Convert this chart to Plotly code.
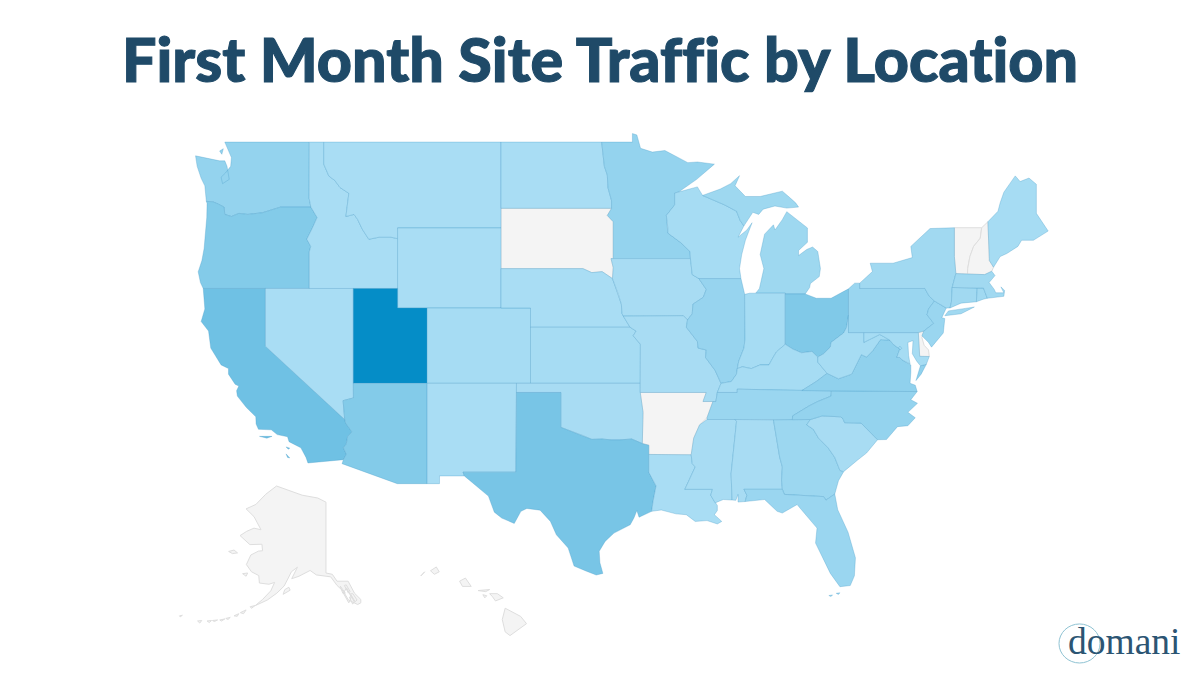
import numpy as np
import plotly.graph_objects as go
from plotly.colors import sample_colorscale

TITLE = "First Month Site Traffic by Location"
BRAND = "domani"

# Relative traffic level per state, read from the shading (None = no data, grey)
STATES = ["WA","OR","CA","NV","ID","MT","WY","UT","CO","AZ","NM","ND","SD","NE","KS","OK","TX","MN","IA","MO","AR","LA","WI","IL","MI","IN","OH","KY","TN","MS","AL","GA","FL","SC","NC","VA","WV","MD","DE","DC","PA","NJ","NY","CT","RI","MA","VT","NH","ME","AK","HI"]
LEVELS = [14,24,36,1,1,1,1,100,3,24,1,1,None,1,3,2,31,14,2,2,None,1,3,12,8,3,26,3,10,2,2,9,10,2,14,16,3,3,None,3,10,10,6,6,6,6,None,None,3,None,None]

# State outlines as (lon, lat)
WA = [[(-124.73,48.38),(-123.1,48.15),(-122.75,48.15),(-122.6,47.9),(-122.45,47.3),(-122.9,47.1),(-123.0,47.4),(-122.7,47.6),(-122.35,47.9),(-122.3,48.3),(-122.75,49.0),(-117.03,49.0),(-117.04,46.42),(-116.92,46.0),(-118.98,46.0),(-119.3,45.93),(-120.2,45.73),(-121.2,45.65),(-121.8,45.7),(-122.3,45.55),(-122.75,45.65),(-122.8,46.0),(-123.2,46.15),(-123.55,46.25),(-124.0,46.27),(-124.05,46.7),(-124.1,47.0),(-124.35,47.35),(-124.62,47.9)],
      [(-123.1,48.6),(-122.85,48.7),(-122.95,48.45)]]
OR = [[(-124.0,46.27),(-123.55,46.25),(-123.2,46.15),(-122.8,46.0),(-122.75,45.65),(-122.3,45.55),(-121.8,45.7),(-121.2,45.65),(-120.2,45.73),(-119.3,45.93),(-118.98,46.0),(-116.92,46.0),(-116.5,45.5),(-116.85,44.95),(-117.2,44.45),(-117.03,44.25),(-116.93,44.1),(-117.03,43.83),(-117.03,42.0),(-124.21,42.0),(-124.4,42.3),(-124.55,42.84),(-124.3,43.4),(-124.15,44.0),(-124.07,44.7),(-123.97,45.5),(-123.95,46.18)]]
CA = [[(-124.21,42.0),(-120.0,42.0),(-120.0,39.0),(-114.63,35.0),(-114.57,34.8),(-114.14,34.3),(-114.43,34.05),(-114.53,33.6),(-114.72,33.4),(-114.52,33.03),(-114.72,32.72),(-117.12,32.53),(-117.25,32.85),(-117.6,33.4),(-118.4,33.75),(-118.5,34.03),(-119.2,34.15),(-119.6,34.42),(-120.47,34.45),(-120.63,34.75),(-120.65,35.15),(-121.3,35.68),(-121.9,36.3),(-121.95,36.6),(-121.8,36.85),(-122.05,36.95),(-122.5,37.5),(-122.5,37.8),(-123.0,38.0),(-123.7,38.9),(-123.85,39.8),(-124.35,40.3),(-124.1,40.95),(-124.15,41.7)],
      [(-120.4,34.05),(-119.55,34.05),(-119.9,33.95)],[(-118.6,33.45),(-118.35,33.38),(-118.45,33.32)],[(-118.6,33.05),(-118.35,32.82),(-118.5,32.85)]]
NV = [[(-120.0,42.0),(-114.04,42.0),(-114.04,36.2),(-114.74,36.05),(-114.63,35.0),(-120.0,39.0)]]
ID = [[(-117.03,49.0),(-116.05,49.0),(-116.05,48.0),(-115.7,47.45),(-115.3,47.25),(-114.95,46.92),(-114.35,46.65),(-114.55,45.55),(-114.0,45.65),(-113.75,45.4),(-113.45,44.95),(-113.0,44.45),(-112.3,44.55),(-111.5,44.55),(-111.05,44.48),(-111.05,42.0),(-117.03,42.0),(-117.03,43.83),(-116.93,44.1),(-117.03,44.25),(-117.2,44.45),(-116.85,44.95),(-116.5,45.5),(-116.92,46.0),(-117.04,46.42)]]
MT = [[(-116.05,49.0),(-104.05,49.0),(-104.05,45.0),(-111.05,45.0),(-111.05,44.48),(-111.5,44.55),(-112.3,44.55),(-113.0,44.45),(-113.45,44.95),(-113.75,45.4),(-114.0,45.65),(-114.55,45.55),(-114.35,46.65),(-114.95,46.92),(-115.3,47.25),(-115.7,47.45),(-116.05,48.0)]]
WY = [[(-111.05,45.0),(-104.05,45.0),(-104.05,41.0),(-111.05,41.0)]]
UT = [[(-114.05,42.0),(-111.05,42.0),(-111.05,41.0),(-109.05,41.0),(-109.05,37.0),(-114.05,37.0)]]
CO = [[(-109.05,41.0),(-102.05,41.0),(-102.05,37.0),(-109.05,37.0)]]
AZ = [[(-114.05,37.0),(-109.05,37.0),(-109.05,31.33),(-111.07,31.33),(-114.81,32.49),(-114.72,32.72),(-114.52,33.03),(-114.72,33.4),(-114.53,33.6),(-114.43,34.05),(-114.14,34.3),(-114.57,34.8),(-114.63,35.0),(-114.74,36.05),(-114.04,36.2)]]
NM = [[(-109.05,37.0),(-103.0,37.0),(-103.04,32.0),(-106.62,32.0),(-106.53,31.78),(-108.21,31.78),(-108.21,31.33),(-109.05,31.33)]]
ND = [[(-104.05,49.0),(-97.23,49.0),(-97.15,48.5),(-97.05,47.9),(-96.85,47.5),(-96.8,46.9),(-96.56,46.3),(-96.56,45.94),(-104.05,45.94)]]
SD = [[(-104.05,45.94),(-96.56,45.94),(-96.85,45.6),(-96.45,45.3),(-96.45,43.5),(-96.6,43.5),(-96.45,43.05),(-96.5,42.5),(-97.2,42.85),(-97.9,42.8),(-98.5,43.0),(-104.05,43.0)]]
NE = [[(-104.05,43.0),(-98.5,43.0),(-97.9,42.8),(-97.2,42.85),(-96.5,42.5),(-96.1,41.7),(-95.9,41.2),(-95.85,40.7),(-95.31,40.0),(-102.05,40.0),(-102.05,41.0),(-104.05,41.0)]]
KS = [[(-102.05,40.0),(-95.31,40.0),(-94.9,39.8),(-95.1,39.55),(-94.61,39.11),(-94.62,37.0),(-102.05,37.0)]]
OK = [[(-103.0,37.0),(-94.62,37.0),(-94.62,36.5),(-94.43,35.4),(-94.48,33.64),(-95.2,33.9),(-96.0,33.85),(-96.6,33.85),(-97.2,33.9),(-97.9,33.88),(-98.5,34.1),(-99.2,34.3),(-100.0,34.56),(-100.0,36.5),(-103.0,36.5)]]
TX = [[(-106.62,32.0),(-103.04,32.0),(-103.0,36.5),(-100.0,36.5),(-100.0,34.56),(-99.2,34.3),(-98.5,34.1),(-97.9,33.88),(-97.2,33.9),(-96.6,33.85),(-96.0,33.85),(-95.2,33.9),(-94.48,33.64),(-94.04,33.55),(-94.04,31.99),(-93.55,31.2),(-93.75,30.3),(-93.85,29.7),(-94.7,29.35),(-94.85,29.75),(-95.05,29.3),(-95.3,28.9),(-96.4,28.4),(-97.0,27.9),(-97.4,27.3),(-97.35,26.6),(-97.15,25.95),(-97.6,25.85),(-98.3,26.1),(-99.1,26.4),(-99.5,27.5),(-100.3,28.3),(-100.7,29.1),(-101.4,29.77),(-102.3,29.87),(-102.7,29.7),(-103.15,28.98),(-104.0,29.3),(-104.5,29.65),(-104.9,30.6),(-106.0,31.4),(-106.53,31.78)]]
MN = [[(-97.23,49.0),(-95.15,49.0),(-95.15,49.38),(-94.85,49.32),(-94.6,48.72),(-93.8,48.55),(-92.95,48.62),(-92.0,48.3),(-91.4,48.07),(-90.75,48.1),(-89.6,48.0),(-90.8,47.3),(-92.02,46.71),(-92.29,46.66),(-92.29,46.1),(-92.85,45.6),(-92.75,45.0),(-92.75,44.75),(-91.9,44.3),(-91.25,43.85),(-91.22,43.5),(-96.45,43.5),(-96.45,45.3),(-96.85,45.6),(-96.56,45.94),(-96.56,46.3),(-96.8,46.9),(-96.85,47.5),(-97.05,47.9),(-97.15,48.5)]]
IA = [[(-96.45,43.5),(-91.22,43.5),(-91.1,42.7),(-90.65,42.5),(-90.15,41.95),(-90.35,41.55),(-91.05,41.2),(-91.1,40.7),(-91.42,40.38),(-91.7,40.6),(-95.77,40.58),(-95.85,40.7),(-95.9,41.2),(-96.1,41.7),(-96.5,42.5),(-96.45,43.05),(-96.6,43.5)]]
MO = [[(-95.77,40.58),(-91.7,40.6),(-91.42,40.38),(-91.5,40.0),(-90.75,39.25),(-90.7,38.9),(-90.15,38.8),(-90.2,38.4),(-89.55,37.7),(-89.15,37.0),(-89.4,36.5),(-89.5,36.0),(-90.37,36.0),(-90.15,36.5),(-94.62,36.5),(-94.62,37.0),(-94.61,39.11),(-95.1,39.55),(-94.9,39.8),(-95.31,40.0)]]
AR = [[(-94.62,36.5),(-90.15,36.5),(-90.37,36.0),(-89.7,36.0),(-90.1,35.1),(-90.6,34.7),(-91.0,33.95),(-91.17,33.0),(-94.04,33.02),(-94.04,33.55),(-94.48,33.64),(-94.43,35.4)]]
LA = [[(-94.04,33.02),(-91.17,33.0),(-91.1,32.5),(-90.9,32.3),(-91.6,31.0),(-89.73,31.0),(-89.85,30.65),(-89.55,30.2),(-89.4,30.05),(-89.4,29.75),(-89.6,29.5),(-89.1,29.1),(-89.4,28.95),(-90.1,29.15),(-90.9,29.1),(-91.5,29.5),(-92.2,29.55),(-93.2,29.78),(-93.85,29.7),(-93.75,30.3),(-93.55,31.2),(-94.04,31.99)]]
MS = [[(-90.1,35.0),(-88.2,35.0),(-88.1,34.9),(-88.47,31.9),(-88.4,30.37),(-89.0,30.4),(-89.55,30.2),(-89.85,30.65),(-89.73,31.0),(-91.6,31.0),(-90.9,32.3),(-91.1,32.5),(-91.17,33.0),(-91.0,33.95),(-90.6,34.7)]]
TN = [[(-89.7,36.0),(-89.5,36.0),(-89.4,36.5),(-88.05,36.5),(-88.05,36.68),(-83.68,36.6),(-81.68,36.59),(-81.7,36.3),(-82.6,36.0),(-83.2,35.75),(-84.3,35.2),(-84.32,34.99),(-88.2,35.0),(-90.1,35.0),(-90.1,35.1)]]
KY = [[(-89.15,37.0),(-88.45,37.1),(-88.1,37.5),(-88.05,37.8),(-87.7,37.9),(-87.1,37.8),(-86.5,38.0),(-85.9,38.0),(-85.7,38.3),(-85.4,38.7),(-84.8,39.1),(-84.3,38.85),(-83.7,38.65),(-83.0,38.72),(-82.6,38.42),(-82.6,38.15),(-81.97,37.54),(-82.7,37.1),(-83.68,36.6),(-88.05,36.68),(-88.05,36.5),(-89.4,36.5)]]
IL = [[(-90.65,42.5),(-87.8,42.5),(-87.55,41.7),(-87.53,39.35),(-87.6,38.9),(-87.95,38.2),(-88.05,37.8),(-88.1,37.5),(-88.45,37.1),(-89.15,37.0),(-89.55,37.7),(-90.2,38.4),(-90.15,38.8),(-90.7,38.9),(-90.75,39.25),(-91.5,40.0),(-91.42,40.38),(-91.1,40.7),(-91.05,41.2),(-90.35,41.55),(-90.15,41.95)]]
IN = [[(-87.55,41.7),(-87.2,41.76),(-86.8,41.76),(-84.8,41.76),(-84.8,39.1),(-85.4,38.7),(-85.7,38.3),(-85.9,38.0),(-86.5,38.0),(-87.1,37.8),(-87.7,37.9),(-88.05,37.8),(-87.95,38.2),(-87.6,38.9),(-87.53,39.35)]]
OH = [[(-84.8,41.72),(-83.45,41.72),(-82.7,41.5),(-81.7,41.5),(-80.52,41.98),(-80.52,40.64),(-80.65,40.0),(-80.85,39.7),(-81.7,39.2),(-81.75,38.95),(-82.2,38.6),(-82.6,38.42),(-83.0,38.72),(-83.7,38.65),(-84.3,38.85),(-84.8,39.1)]]
MI = [[(-86.8,41.76),(-84.8,41.76),(-84.8,41.72),(-83.45,41.72),(-83.15,42.05),(-83.1,42.25),(-82.5,42.6),(-82.42,43.0),(-82.6,43.85),(-82.95,44.07),(-83.35,43.95),(-83.9,43.65),(-83.9,43.9),(-83.3,44.3),(-83.3,45.0),(-84.7,45.78),(-85.0,45.4),(-85.5,44.9),(-85.6,45.15),(-86.2,44.7),(-86.5,43.7),(-86.25,43.0),(-86.55,42.0)],
      [(-90.4,46.55),(-89.2,46.85),(-88.5,47.1),(-87.9,47.47),(-88.2,47.0),(-87.5,46.5),(-86.5,46.5),(-85.0,46.75),(-84.5,46.45),(-84.1,46.2),(-83.9,46.0),(-84.7,45.95),(-85.5,46.05),(-86.3,45.9),(-86.6,45.65),(-87.0,45.75),(-87.6,45.1),(-87.85,45.35),(-88.1,45.8),(-88.9,46.1)]]
WI = [[(-92.29,46.66),(-92.02,46.71),(-91.2,46.85),(-90.75,46.95),(-90.4,46.55),(-88.9,46.1),(-88.1,45.8),(-87.85,45.35),(-87.6,45.1),(-88.0,44.55),(-87.4,44.9),(-87.05,45.25),(-87.5,44.4),(-87.75,43.7),(-87.9,43.0),(-87.8,42.5),(-90.65,42.5),(-91.1,42.7),(-91.22,43.5),(-91.25,43.85),(-91.9,44.3),(-92.75,44.75),(-92.75,45.0),(-92.85,45.6),(-92.29,46.1)]]
AL = [[(-88.2,35.0),(-85.6,34.98),(-85.18,32.87),(-85.0,32.3),(-85.05,31.55),(-85.0,31.0),(-87.6,31.0),(-87.4,30.65),(-87.52,30.28),(-88.0,30.25),(-88.0,30.7),(-88.15,30.35),(-88.4,30.37),(-88.47,31.9),(-88.1,34.9)]]
GA = [[(-85.6,34.98),(-83.1,35.0),(-83.35,34.7),(-82.9,34.45),(-82.55,33.95),(-81.9,33.4),(-81.45,32.85),(-81.1,32.1),(-80.85,32.03),(-81.2,31.5),(-81.45,30.72),(-82.05,30.36),(-82.2,30.57),(-84.86,30.7),(-85.0,31.0),(-85.05,31.55),(-85.0,32.3),(-85.18,32.87)]]
FL = [[(-87.52,30.28),(-87.4,30.65),(-87.6,31.0),(-85.0,31.0),(-84.86,30.7),(-82.2,30.57),(-82.05,30.36),(-81.45,30.72),(-81.25,29.8),(-80.55,28.45),(-80.05,26.9),(-80.12,25.8),(-80.4,25.2),(-81.1,25.13),(-81.75,25.95),(-82.15,26.7),(-82.75,27.8),(-82.65,28.7),(-83.4,29.5),(-84.0,30.1),(-85.0,29.6),(-85.35,29.7),(-86.2,30.4)],
      [(-81.85,24.58),(-81.6,24.62),(-81.7,24.52)],[(-81.35,24.72),(-81.1,24.75),(-81.2,24.65)]]
SC = [[(-83.1,35.0),(-82.3,35.2),(-81.05,35.15),(-80.9,35.05),(-80.78,34.82),(-79.67,34.8),(-78.55,33.86),(-79.0,33.4),(-79.3,33.1),(-79.9,32.7),(-80.5,32.3),(-80.85,32.03),(-81.1,32.1),(-81.45,32.85),(-81.9,33.4),(-82.55,33.95),(-82.9,34.45),(-83.35,34.7)]]
NC = [[(-84.32,34.99),(-84.3,35.2),(-83.2,35.75),(-82.6,36.0),(-81.7,36.3),(-81.68,36.59),(-75.87,36.55),(-76.3,36.1),(-75.85,35.9),(-76.5,35.4),(-76.0,35.1),(-76.5,34.65),(-77.2,34.6),(-77.95,33.87),(-78.55,33.86),(-79.67,34.8),(-80.78,34.82),(-80.9,35.05),(-81.05,35.15),(-82.3,35.2),(-83.1,35.0)]]
VA = [[(-83.68,36.6),(-81.68,36.59),(-75.87,36.55),(-76.0,36.9),(-76.35,37.0),(-76.3,37.6),(-76.3,38.0),(-76.9,38.27),(-77.05,38.4),(-77.25,38.4),(-77.05,38.85),(-77.5,39.1),(-77.72,39.32),(-78.35,39.35),(-78.87,38.77),(-79.3,38.42),(-79.65,38.55),(-80.3,37.5),(-81.2,37.25),(-81.97,37.54),(-82.7,37.1)],
      [(-75.95,37.15),(-75.65,37.95),(-75.25,38.03),(-75.6,37.5)]]
WV = [[(-80.52,40.64),(-80.52,39.72),(-79.48,39.72),(-79.48,39.2),(-78.4,39.62),(-77.72,39.32),(-78.35,39.35),(-78.87,38.77),(-79.3,38.42),(-79.65,38.55),(-80.3,37.5),(-81.2,37.25),(-81.97,37.54),(-82.6,38.15),(-82.6,38.42),(-82.2,38.6),(-81.75,38.95),(-81.7,39.2),(-80.85,39.7),(-80.65,40.0)]]
MD = [[(-79.48,39.72),(-75.79,39.72),(-75.7,38.46),(-75.05,38.45),(-75.25,38.03),(-75.65,37.95),(-75.9,38.2),(-76.2,38.6),(-76.15,39.3),(-76.5,39.2),(-76.45,38.5),(-76.35,38.05),(-76.9,38.27),(-77.05,38.4),(-77.25,38.4),(-77.05,38.85),(-77.5,39.1),(-77.72,39.32),(-78.4,39.62),(-79.48,39.2)]]
DE = [[(-75.79,39.72),(-75.42,39.8),(-75.55,39.45),(-75.4,39.05),(-75.1,38.8),(-75.05,38.45),(-75.7,38.46)]]
DC = [[(-77.12,38.93),(-77.04,39.0),(-76.91,38.89),(-77.04,38.79)]]
PA = [[(-80.52,41.98),(-80.1,42.27),(-79.76,42.27),(-79.76,42.0),(-75.35,42.0),(-75.05,41.6),(-74.7,41.36),(-75.1,40.95),(-75.2,40.65),(-74.75,40.2),(-75.42,39.8),(-75.79,39.72),(-80.52,39.72)]]
NJ = [[(-74.7,41.36),(-73.9,41.0),(-74.2,40.5),(-74.0,40.45),(-74.1,39.7),(-74.9,38.95),(-75.1,39.2),(-75.55,39.55),(-75.42,39.8),(-74.75,40.2),(-75.2,40.65),(-75.1,40.95)]]
NY = [[(-79.76,42.0),(-79.76,42.27),(-78.9,42.85),(-79.05,43.27),(-77.5,43.27),(-76.2,43.55),(-76.3,44.1),(-75.0,44.97),(-73.35,45.01),(-73.35,43.6),(-73.25,42.75),(-73.5,42.05),(-73.55,41.3),(-73.65,41.0),(-73.9,41.0),(-74.7,41.36),(-75.05,41.6),(-75.35,42.0)],
      [(-74.0,40.6),(-73.75,40.85),(-72.6,40.98),(-72.0,41.05),(-72.9,40.7)]]
CT = [[(-73.5,42.05),(-71.8,42.02),(-71.86,41.32),(-72.9,41.25),(-73.65,41.0),(-73.55,41.3)]]
RI = [[(-71.8,42.02),(-71.38,42.02),(-71.12,41.5),(-71.4,41.45),(-71.86,41.32)]]
MA = [[(-73.5,42.05),(-73.25,42.75),(-72.46,42.73),(-71.3,42.7),(-70.82,42.87),(-70.6,42.65),(-71.0,42.3),(-70.65,41.95),(-70.55,41.78),(-70.0,41.78),(-70.2,42.08),(-69.95,41.9),(-70.0,41.6),(-70.65,41.55),(-71.12,41.5),(-71.38,42.02),(-71.8,42.02)]]
VT = [[(-73.35,45.01),(-71.5,45.01),(-71.6,44.5),(-72.05,44.1),(-72.3,43.6),(-72.45,43.0),(-72.46,42.73),(-73.25,42.75),(-73.35,43.6)]]
NH = [[(-71.5,45.01),(-71.08,45.3),(-70.98,43.4),(-70.7,43.07),(-70.82,42.87),(-71.3,42.7),(-72.46,42.73),(-72.45,43.0),(-72.3,43.6),(-72.05,44.1),(-71.6,44.5)]]
ME = [[(-71.08,45.3),(-70.4,45.8),(-70.25,46.2),(-70.0,46.7),(-69.23,47.46),(-68.9,47.2),(-68.3,47.36),(-67.8,47.07),(-67.8,45.7),(-67.45,45.3),(-67.0,44.85),(-68.0,44.4),(-68.8,44.4),(-69.05,44.1),(-69.8,43.75),(-70.25,43.6),(-70.7,43.07),(-70.98,43.4)]]
AK = [[(-141.0,69.65),(-143.6,70.1),(-148.5,70.4),(-152.0,70.85),(-156.6,71.35),(-160.0,70.5),(-163.1,69.4),(-166.2,68.9),(-163.7,68.0),(-162.3,67.0),(-161.5,66.4),(-163.7,66.6),(-166.0,66.2),(-168.1,65.65),(-165.0,64.45),(-161.2,64.5),(-161.0,63.6),(-162.3,63.55),(-164.7,63.0),(-166.1,61.6),(-164.5,60.5),(-162.2,59.9),(-162.0,58.7),(-159.0,58.5),(-157.2,58.8),(-158.4,57.4),(-161.0,55.9),(-163.3,54.8),(-162.6,55.0),(-159.5,55.8),(-156.5,57.0),(-154.2,58.2),(-153.2,59.2),(-151.9,60.5),(-150.0,61.2),(-151.8,59.4),(-149.5,59.8),(-147.8,60.2),(-146.0,60.7),(-144.0,60.0),(-141.5,59.9),(-139.5,59.7),(-137.5,58.3),(-135.5,57.3),(-133.9,55.8),(-131.0,55.0),(-130.0,55.3),(-130.0,55.9),(-132.0,57.0),(-134.0,59.0),(-137.5,59.0),(-139.0,60.1),(-141.0,60.3)],
      [(-154.5,56.8),(-152.3,57.5),(-152.7,58.0),(-154.0,57.6)],[(-171.7,63.5),(-170.0,63.7),(-168.9,63.3),(-170.5,63.2)],[(-167.3,60.2),(-165.7,60.3),(-166.2,59.8)],
      [(-164.9,54.6),(-163.4,54.8),(-164.5,54.3)],[(-168.0,53.5),(-166.2,54.0),(-167.0,53.3)],[(-170.0,52.9),(-168.5,53.3),(-169.0,52.8)],[(-172.6,52.4),(-171.2,52.6),(-171.9,52.2)],[(-174.5,52.1),(-172.9,52.3),(-174.0,51.9)],[(-176.8,52.0),(-175.2,52.1),(-176.2,51.8)],[(-178.5,51.9),(-177.1,52.0),(-177.8,51.6)],[(-181.5,51.9),(-180.2,52.0),(-180.8,51.5)],[(-187.2,52.9),(-186.3,53.0),(-187.0,52.7)],
      [(-134.5,57.9),(-133.0,56.3),(-133.8,55.3),(-135.5,57.0)],[(-136.5,58.2),(-134.9,57.0),(-135.7,57.0)],[(-133.3,56.9),(-131.8,55.5),(-131.2,55.8),(-132.5,56.9)],[(-135.2,58.3),(-133.9,57.0),(-133.4,57.3),(-134.6,58.4)],[(-133.6,56.3),(-132.6,55.1),(-132.0,55.4),(-132.9,56.4)]]
HI = [[(-155.9,20.25),(-155.1,19.85),(-154.8,19.5),(-155.65,18.92),(-155.9,19.1),(-156.05,19.7)],
      [(-156.7,20.95),(-156.3,20.95),(-156.0,20.75),(-156.4,20.6),(-156.55,20.8)],[(-157.3,21.1),(-156.7,21.15),(-156.9,21.05)],[(-157.05,20.9),(-156.85,20.85),(-156.95,20.75)],
      [(-158.25,21.55),(-157.95,21.7),(-157.65,21.3),(-158.1,21.3)],[(-159.75,22.05),(-159.45,22.23),(-159.3,22.0),(-159.55,21.88)],[(-160.25,21.8),(-160.05,22.0),(-160.1,21.9)]]

OUTLINES = {"WA":WA,"OR":OR,"CA":CA,"NV":NV,"ID":ID,"MT":MT,"WY":WY,"UT":UT,"CO":CO,"AZ":AZ,"NM":NM,"ND":ND,"SD":SD,"NE":NE,"KS":KS,"OK":OK,"TX":TX,"MN":MN,"IA":IA,"MO":MO,"AR":AR,"LA":LA,"WI":WI,"IL":IL,"MI":MI,"IN":IN,"OH":OH,"KY":KY,"TN":TN,"MS":MS,"AL":AL,"GA":GA,"FL":FL,"SC":SC,"NC":NC,"VA":VA,"WV":WV,"MD":MD,"DE":DE,"DC":DC,"PA":PA,"NJ":NJ,"NY":NY,"CT":CT,"RI":RI,"MA":MA,"VT":VT,"NH":NH,"ME":ME,"AK":AK,"HI":HI}

NO_DATA = "#f4f4f4"
SCALE = [[0, "#abdef4"], [1, "#058dc7"]]
BORDER = "rgba(70,155,200,0.32)"
BORDER_NO_DATA = "#dedede"
INK = "#1f4a68"

# Mercator map frame; Alaska and Hawaii sit in scaled insets, as in the reference
X_RANGE = [-137.97, -56.72]
Y_RANGE = [19.94, 66.08]
INSETS = {"AK": dict(lon0=-141.0, lat0=60.3, x0=-115.90, y0=26.91, kx=0.2146, ky=0.2167),
          "HI": dict(lon0=-155.5, lat0=19.6, x0=-103.24, y0=23.59, kx=1.3135, ky=1.326)}

def merc(lat):
    return np.degrees(np.arcsinh(np.tan(np.radians(lat))))

def project(state, ring):
    lon, lat = np.array(ring).T
    x, y = lon, merc(lat)
    if state in INSETS:
        p = INSETS[state]
        x = p["x0"] + p["kx"] * (lon - p["lon0"])
        y = p["y0"] + p["ky"] * (merc(lat) - merc(p["lat0"]))
    return x, y

fig = go.Figure()
order = sorted(range(len(STATES)), key=lambda i: LEVELS[i] is not None)
for i in order:
    state, level = STATES[i], LEVELS[i]
    xs, ys = [], []
    for ring in OUTLINES[state]:
        x, y = project(state, ring)
        xs += list(x) + [x[0], None]
        ys += list(y) + [y[0], None]
    fill = NO_DATA if level is None else sample_colorscale(SCALE, level / 100)[0]
    fig.add_trace(go.Scatter(x=xs, y=ys, mode="lines", fill="toself", fillcolor=fill, name=state,
                             line=dict(color=BORDER_NO_DATA if level is None else BORDER, width=1),
                             hoverinfo="name", showlegend=False))

fig.update_layout(
    width=1200, height=675, margin=dict(l=0, r=0, t=0, b=0),
    paper_bgcolor="white", plot_bgcolor="white",
    xaxis=dict(range=X_RANGE, visible=False, fixedrange=True),
    yaxis=dict(range=Y_RANGE, visible=False, fixedrange=True),
    title=dict(text=TITLE, x=0.5, xanchor="center", y=0.91, yanchor="middle",
               font=dict(family="Lato", size=61, color=INK, weight=900)),
)
fig.add_annotation(text=BRAND, xref="paper", yref="paper", x=0.985, y=0.05, xanchor="right", yanchor="middle",
                   showarrow=False, font=dict(family="Liberation Serif", size=37.5, color="#2c5573"))
fig.add_shape(type="circle", xref="paper", yref="paper", x0=0.8825, x1=0.9167, y0=0.0178, y1=0.0756,
              line=dict(color="#8fc3d3", width=1))

# No page margin; title without the font's ligatures and a little heavier, as in the reference
POST = ("document.body.style.margin='0';"
        "document.querySelectorAll('.gtitle').forEach(function(t){"
        "t.style.fontVariantLigatures='none';t.style.stroke='" + INK + "';t.style.strokeWidth='1.1px';});")
fig.write_html("out.html", config={"displayModeBar": False}, post_script=POST)
